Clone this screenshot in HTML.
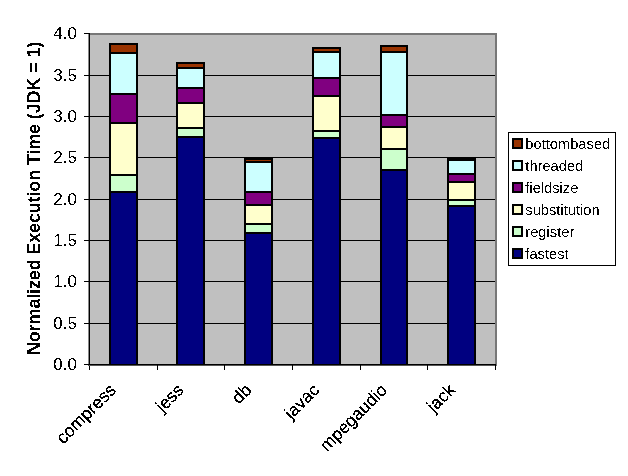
<!DOCTYPE html><html><head><meta charset="utf-8"><style>html,body{margin:0;padding:0;background:#fff;}svg{display:block}text{font-family:"Liberation Sans",sans-serif;}</style></head><body>
<svg width="628" height="476" viewBox="0 0 628 476">
<defs><filter id="al" x="-5%" y="-5%" width="110%" height="110%"><feComponentTransfer><feFuncA type="discrete" tableValues="0 1"/></feComponentTransfer></filter><filter id="al3" x="-5%" y="-5%" width="110%" height="110%"><feComponentTransfer><feFuncA type="discrete" tableValues="0 0 1"/></feComponentTransfer></filter><filter id="al2" x="-5%" y="-5%" width="110%" height="110%"><feComponentTransfer><feFuncA type="discrete" tableValues="0 1 1"/></feComponentTransfer></filter></defs>
<g shape-rendering="crispEdges">
<rect x="88" y="33" width="409" height="332" fill="#C0C0C0"/>
<rect x="88" y="33" width="409" height="2" fill="#777"/>
<rect x="495" y="33" width="2" height="333" fill="#777"/>
<rect x="84" y="75" width="411" height="1" fill="#000"/>
<rect x="84" y="116" width="411" height="1" fill="#000"/>
<rect x="84" y="157" width="411" height="1" fill="#000"/>
<rect x="84" y="199" width="411" height="1" fill="#000"/>
<rect x="84" y="240" width="411" height="1" fill="#000"/>
<rect x="84" y="281" width="411" height="1" fill="#000"/>
<rect x="84" y="323" width="411" height="1" fill="#000"/>
<rect x="84" y="33" width="5" height="1" fill="#000"/>
<rect x="109" y="43" width="29" height="321" fill="#000"/>
<rect x="111" y="45" width="25" height="7" fill="#993300"/>
<rect x="111" y="54" width="25" height="39" fill="#CCFFFF"/>
<rect x="111" y="95" width="25" height="27" fill="#800080"/>
<rect x="111" y="124" width="25" height="50" fill="#FFFFCC"/>
<rect x="111" y="176" width="25" height="15" fill="#CCFFCC"/>
<rect x="111" y="193" width="25" height="171" fill="#000080"/>
<rect x="176" y="62" width="29" height="302" fill="#000"/>
<rect x="178" y="64" width="25" height="3" fill="#993300"/>
<rect x="178" y="69" width="25" height="18" fill="#CCFFFF"/>
<rect x="178" y="89" width="25" height="13" fill="#800080"/>
<rect x="178" y="104" width="25" height="23" fill="#FFFFCC"/>
<rect x="178" y="129" width="25" height="7" fill="#CCFFCC"/>
<rect x="178" y="138" width="25" height="226" fill="#000080"/>
<rect x="244" y="157" width="29" height="207" fill="#000"/>
<rect x="246" y="160" width="25" height="1" fill="#993300"/>
<rect x="246" y="163" width="25" height="28" fill="#CCFFFF"/>
<rect x="246" y="193" width="25" height="11" fill="#800080"/>
<rect x="246" y="206" width="25" height="17" fill="#FFFFCC"/>
<rect x="246" y="225" width="25" height="7" fill="#CCFFCC"/>
<rect x="246" y="234" width="25" height="130" fill="#000080"/>
<rect x="312" y="47" width="29" height="317" fill="#000"/>
<rect x="314" y="49" width="25" height="2" fill="#993300"/>
<rect x="314" y="53" width="25" height="24" fill="#CCFFFF"/>
<rect x="314" y="79" width="25" height="16" fill="#800080"/>
<rect x="314" y="97" width="25" height="33" fill="#FFFFCC"/>
<rect x="314" y="132" width="25" height="5" fill="#CCFFCC"/>
<rect x="314" y="139" width="25" height="225" fill="#000080"/>
<rect x="380" y="45" width="28" height="319" fill="#000"/>
<rect x="382" y="47" width="24" height="4" fill="#993300"/>
<rect x="382" y="53" width="24" height="61" fill="#CCFFFF"/>
<rect x="382" y="116" width="24" height="10" fill="#800080"/>
<rect x="382" y="128" width="24" height="20" fill="#FFFFCC"/>
<rect x="382" y="150" width="24" height="19" fill="#CCFFCC"/>
<rect x="382" y="171" width="24" height="193" fill="#000080"/>
<rect x="447" y="157" width="29" height="207" fill="#000"/>
<rect x="449" y="161" width="25" height="12" fill="#CCFFFF"/>
<rect x="449" y="175" width="25" height="6" fill="#800080"/>
<rect x="449" y="183" width="25" height="16" fill="#FFFFCC"/>
<rect x="449" y="201" width="25" height="4" fill="#CCFFCC"/>
<rect x="449" y="207" width="25" height="157" fill="#000080"/>
<rect x="88" y="33" width="1" height="332" fill="#888"/>
<rect x="89" y="33" width="1" height="337" fill="#000"/>
<rect x="84" y="364" width="412" height="1" fill="#000"/>
<rect x="88" y="365" width="408" height="1" fill="#555"/>
<rect x="84" y="33" width="6" height="1" fill="#000"/>
<rect x="84" y="75" width="6" height="1" fill="#000"/>
<rect x="84" y="116" width="6" height="1" fill="#000"/>
<rect x="84" y="157" width="6" height="1" fill="#000"/>
<rect x="84" y="199" width="6" height="1" fill="#000"/>
<rect x="84" y="240" width="6" height="1" fill="#000"/>
<rect x="84" y="281" width="6" height="1" fill="#000"/>
<rect x="84" y="323" width="6" height="1" fill="#000"/>
<rect x="157" y="364" width="1" height="6" fill="#000"/>
<rect x="224" y="364" width="1" height="6" fill="#000"/>
<rect x="292" y="364" width="1" height="6" fill="#000"/>
<rect x="360" y="364" width="1" height="6" fill="#000"/>
<rect x="427" y="364" width="1" height="6" fill="#000"/>
<rect x="495" y="364" width="1" height="6" fill="#000"/>
</g>
<g filter="url(#al)">
<text x="77" y="39" font-size="17" text-anchor="end">4.0</text>
<text x="77" y="81" font-size="17" text-anchor="end">3.5</text>
<text x="77" y="122" font-size="17" text-anchor="end">3.0</text>
<text x="77" y="163" font-size="17" text-anchor="end">2.5</text>
<text x="77" y="205" font-size="17" text-anchor="end">2.0</text>
<text x="77" y="246" font-size="17" text-anchor="end">1.5</text>
<text x="77" y="287" font-size="17" text-anchor="end">1.0</text>
<text x="77" y="329" font-size="17" text-anchor="end">0.5</text>
<text x="77" y="370" font-size="17" text-anchor="end">0.0</text>
<text transform="translate(40,198.5) rotate(-90)" font-size="18" letter-spacing="-0.15" font-weight="bold" text-anchor="middle">Normalized Execution Time (JDK = 1)</text>
</g><g filter="url(#al2)">
<text transform="translate(116.9,391) rotate(-45)" font-size="17.5" text-anchor="end">compress</text>
<text transform="translate(184.7,391) rotate(-45)" font-size="17.5" text-anchor="end">jess</text>
<text transform="translate(252.6,391) rotate(-45)" font-size="17.5" text-anchor="end">db</text>
<text transform="translate(320.4,391) rotate(-45)" font-size="17.5" text-anchor="end">javac</text>
<text transform="translate(388.2,391) rotate(-45)" font-size="17.5" text-anchor="end">mpegaudio</text>
<text transform="translate(456.1,391) rotate(-45)" font-size="17.5" text-anchor="end">jack</text>
</g>
<g shape-rendering="crispEdges"><rect x="508.5" y="132.5" width="107" height="133" fill="#fff" stroke="#000" stroke-width="1"/>
<rect x="512" y="138" width="11" height="11" fill="#000"/><rect x="514" y="140" width="7" height="7" fill="#993300"/>
<rect x="512" y="160" width="11" height="11" fill="#000"/><rect x="514" y="162" width="7" height="7" fill="#CCFFFF"/>
<rect x="512" y="182" width="11" height="11" fill="#000"/><rect x="514" y="184" width="7" height="7" fill="#800080"/>
<rect x="512" y="204" width="11" height="11" fill="#000"/><rect x="514" y="206" width="7" height="7" fill="#FFFFCC"/>
<rect x="512" y="226" width="11" height="11" fill="#000"/><rect x="514" y="228" width="7" height="7" fill="#CCFFCC"/>
<rect x="512" y="248" width="11" height="11" fill="#000"/><rect x="514" y="250" width="7" height="7" fill="#000080"/>
</g>
<g filter="url(#al)">
<text x="525.3" y="149" font-size="14.7">bottombased</text>
<text x="525.3" y="171" font-size="14.7">threaded</text>
<text x="525.3" y="193" font-size="14.7">fieldsize</text>
<text x="525.3" y="215" font-size="14.7">substitution</text>
<text x="525.3" y="237" font-size="14.7">register</text>
<text x="525.3" y="259" font-size="14.7">fastest</text>
</g>
</svg></body></html>
